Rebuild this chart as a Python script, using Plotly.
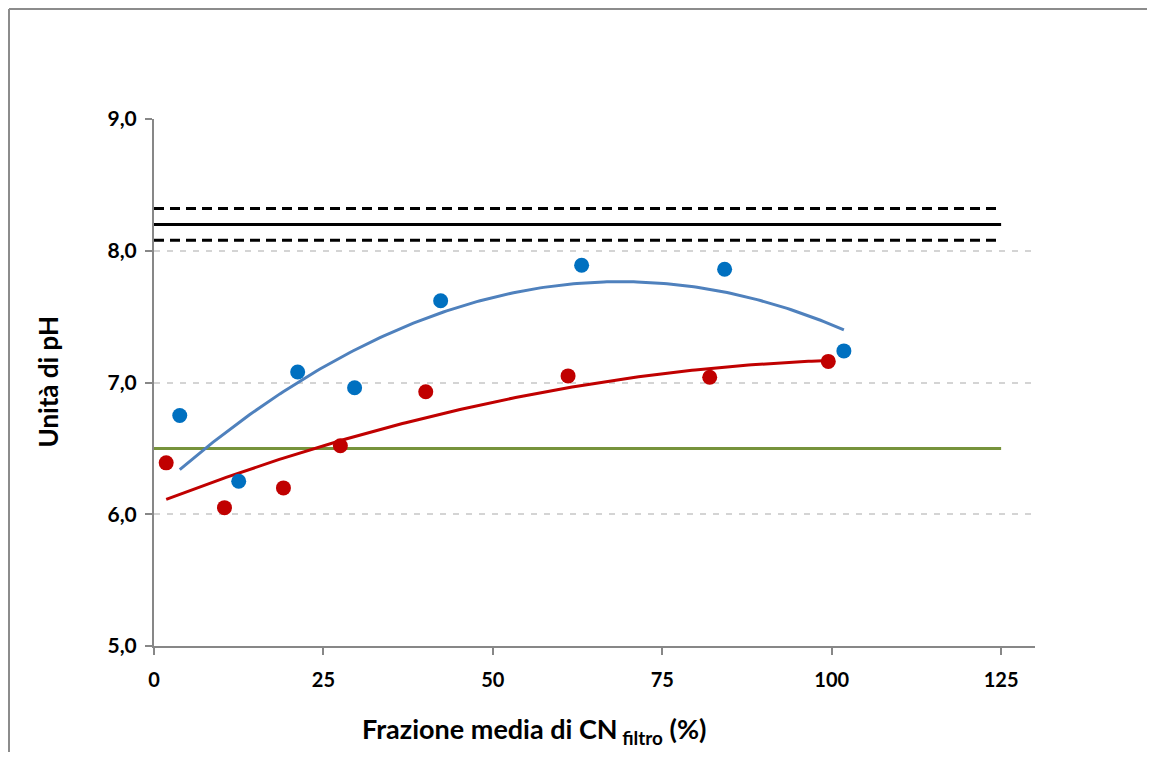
import numpy as np
import plotly.graph_objects as go

# Data
blue_x = [3.8, 12.5, 21.2, 29.6, 42.3, 63.1, 84.2, 101.8]
blue_y = [6.75, 6.25, 7.08, 6.96, 7.62, 7.89, 7.86, 7.24]
red_x = [1.8, 10.4, 19.1, 27.5, 40.1, 61.1, 82.0, 99.5]
red_y = [6.39, 6.05, 6.20, 6.52, 6.93, 7.05, 7.04, 7.16]
ref_mean = 8.20
ref_upper = 8.32
ref_lower = 8.08
threshold = 6.5
line_x = [0, 125]
x_ticks = [0, 25, 50, 75, 100, 125]
y_ticks = [5, 6, 7, 8, 9]
y_tick_labels = ["5,0", "6,0", "7,0", "8,0", "9,0"]

BLUE = "#0070C0"
RED = "#C00000"
BLUE_FIT = "#4F81BD"
GREEN = "#77933C"
FONT = "Lato"

def quad_fit(xs, ys):
    c = np.polyfit(xs, ys, 2)
    xx = np.linspace(min(xs), max(xs), 200)
    return xx, np.polyval(c, xx)

fig = go.Figure()

# Reference lines
fig.add_trace(go.Scatter(x=line_x, y=[threshold] * 2, mode="lines",
                         line=dict(color=GREEN, width=3), showlegend=False, hoverinfo="skip"))
fig.add_trace(go.Scatter(x=line_x, y=[ref_upper] * 2, mode="lines",
                         line=dict(color="black", width=3, dash="10px,6px"), showlegend=False))
fig.add_trace(go.Scatter(x=line_x, y=[ref_mean] * 2, mode="lines",
                         line=dict(color="black", width=3), showlegend=False))
fig.add_trace(go.Scatter(x=line_x, y=[ref_lower] * 2, mode="lines",
                         line=dict(color="black", width=3, dash="10px,6px"), showlegend=False))

# Trend lines (quadratic fits of the points)
bx, by = quad_fit(blue_x, blue_y)
rx, ry = quad_fit(red_x, red_y)
fig.add_trace(go.Scatter(x=bx, y=by, mode="lines", line=dict(color=BLUE_FIT, width=3), showlegend=False))
fig.add_trace(go.Scatter(x=rx, y=ry, mode="lines", line=dict(color=RED, width=3), showlegend=False))

# Points
fig.add_trace(go.Scatter(x=blue_x, y=blue_y, mode="markers",
                         marker=dict(color=BLUE, size=15), showlegend=False))
fig.add_trace(go.Scatter(x=red_x, y=red_y, mode="markers",
                         marker=dict(color=RED, size=15), showlegend=False))

W, H = 1139, 744
L, R, T, B = 146, 112, 111, 106
PW = W - L - R
PH = H - T - B

fig.update_layout(
    width=W, height=H,
    margin=dict(l=L, r=R, t=T, b=B, autoexpand=False),
    paper_bgcolor="white", plot_bgcolor="white",
    showlegend=False,
    xaxis=dict(range=[0, 130], tickvals=x_ticks, showgrid=False, zeroline=False,
               showline=True, linecolor="#878787", linewidth=2,
               ticks="outside", ticklen=7, tickcolor="#878787", tickwidth=1.5,
               tickfont=dict(family=FONT, size=20, color="black", weight="bold"),
               ticklabelstandoff=8),
    yaxis=dict(range=[5, 9], tickvals=y_ticks, ticktext=y_tick_labels, zeroline=False,
               showgrid=True, gridcolor="#D4D4D4", gridwidth=1.5, griddash="6px,7px",
               showline=True, linecolor="#878787", linewidth=2,
               ticks="outside", ticklen=7, tickcolor="#878787", tickwidth=1.5,
               tickfont=dict(family=FONT, size=21, color="black", weight="bold"),
               ticklabelstandoff=4),
    annotations=[
        dict(text="Unità di pH", textangle=-90, xref="paper", yref="paper",
             x=(39 - L) / PW, y=0.5, showarrow=False, xanchor="center", yanchor="middle",
             font=dict(family=FONT, size=26, color="black", weight="bold")),
        dict(text="Frazione media di CN<sub> filtro</sub> (%)", xref="paper", yref="paper",
             x=(526 - L) / PW, y=(H - B - 722) / PH, showarrow=False,
             xanchor="center", yanchor="middle",
             font=dict(family=FONT, size=27, color="black", weight="bold")),
    ],
    shapes=[
        dict(type="line", xref="paper", yref="paper", x0=(1 - L) / PW, x1=(1 - L) / PW,
             y0=(H - B - 1) / PH, y1=-0.3, line=dict(color="#8C8C8C", width=2)),
        dict(type="line", xref="paper", yref="paper", x0=(1 - L) / PW, x1=1.2,
             y0=(H - B - 1) / PH, y1=(H - B - 1) / PH, line=dict(color="#8C8C8C", width=2)),
    ],
)

fig.write_html("out.html")
